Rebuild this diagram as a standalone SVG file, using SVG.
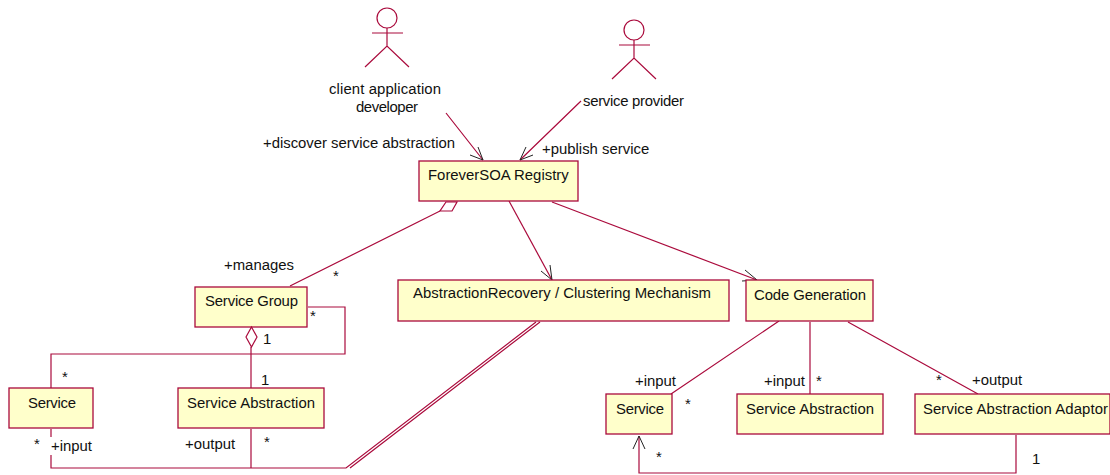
<svg xmlns="http://www.w3.org/2000/svg" width="1110" height="475" viewBox="0 0 1110 475">
<style>
text{font-family:"Liberation Sans",Arial,sans-serif;font-size:14.9px;fill:#111}
.n{fill:#ffffcb;stroke:#aa0a3c;stroke-width:1.3}
.c{fill:none;stroke:#aa0a3c;stroke-width:1.2}
.k{fill:none;stroke:#222;stroke-width:1}
</style>
<rect width="1110" height="475" fill="#fff"/>
<g id="connectors">
<path class="c" d="M446 113L483 160M581 101L520 160"/>
<path class="k" d="M478 147L483 160L470 155M526 147L520 160L533 155"/>
<path class="c" d="M440 211L290 286"/>
<path class="c" d="M509 201L552 280"/>
<path class="k" d="M541 271L552 280L550 265"/>
<path class="c" d="M552 202L757 280"/>
<path class="k" d="M742 281L757 280L745 270"/>
<path class="c" d="M308 307H345V354H51V388"/>
<path class="c" d="M251 347V388"/>
<path class="c" d="M51 429V437M51 455V468H346L536 322M251 429V468M350 468L540 322"/>
<path class="c" d="M779 321L671 394M810 322V394M848 322L978 394"/>
<path class="c" d="M1016 435V473H639V436"/>
<path class="k" d="M633 449L639 436L645 449"/>
</g>
<g id="actor-client"><circle class="c" cx="387" cy="18" r="10"/><path class="c" d="M372 33H403M387 28V46M365 67L387 46L409 67"/><text x="329" y="94" textLength="112">client application</text><text x="356" y="112" textLength="62">developer</text></g>
<g id="actor-provider"><circle class="c" cx="634" cy="30" r="10"/><path class="c" d="M619 45H650M634 40V58M612 79L634 58L656 79"/><text x="583" y="106" textLength="101">service provider</text></g>
<g id="registry"><rect class="n" x="419" y="161" width="159" height="40"/><text x="428" y="180">ForeverSOA Registry</text></g>
<g id="aggregation-registry"><path class="c" d="M446 202H457L452 211H440Z" style="fill:#fff"/></g>
<g id="service-group"><rect class="n" x="195" y="287" width="112" height="40"/><text x="205" y="306" textLength="93">Service Group</text></g>
<g id="aggregation-group"><path class="c" style="fill:#fff" d="M251.5 327L257 337L251.5 347L246 337Z"/></g>
<g id="recovery"><rect class="n" x="398" y="280" width="331" height="41"/><text x="413" y="298" textLength="298">AbstractionRecovery / Clustering Mechanism</text></g>
<g id="code-generation"><rect class="n" x="746" y="280" width="127" height="41"/><text x="754" y="300" textLength="112">Code Generation</text></g>
<g id="service-left"><rect class="n" x="9" y="388" width="84" height="40"/><text x="28" y="408" textLength="48">Service</text></g>
<g id="abstraction-left"><rect class="n" x="178" y="388" width="146" height="40"/><text x="187" y="408" textLength="128">Service Abstraction</text></g>
<g id="service-right"><rect class="n" x="606" y="394" width="66" height="40"/><text x="616" y="414" textLength="48">Service</text></g>
<g id="abstraction-right"><rect class="n" x="737" y="394" width="146" height="40"/><text x="746" y="414" textLength="128">Service Abstraction</text></g>
<g id="adaptor"><rect class="n" x="915" y="394" width="195" height="40"/><text x="923" y="414" textLength="185">Service Abstraction Adaptor</text></g>
<g id="labels">
<text x="263" y="148" textLength="192">+discover service abstraction</text>
<text x="542" y="154">+publish service</text>
<text x="224" y="270">+manages</text>
<text x="333" y="281">*</text>
<text x="310" y="321">*</text>
<text x="263" y="344">1</text>
<text x="261" y="385">1</text>
<text x="62" y="382">*</text>
<text x="34" y="449">*</text>
<text x="51" y="451" textLength="41">+input</text>
<text x="185" y="449">+output</text>
<text x="264" y="447">*</text>
<text x="635" y="386">+input</text>
<text x="685" y="409">*</text>
<text x="764" y="386">+input</text>
<text x="816" y="386">*</text>
<text x="936" y="385">*</text>
<text x="972" y="385">+output</text>
<text x="656" y="462">*</text>
<text x="1032" y="464">1</text>
</g>
</svg>
